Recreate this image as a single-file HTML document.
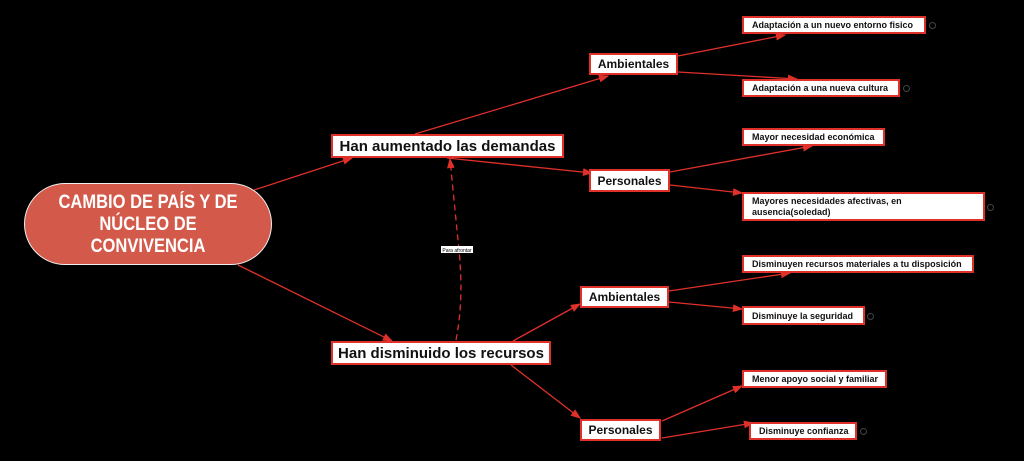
<!DOCTYPE html>
<html><head><meta charset="utf-8"><style>
body{margin:0;background:#000;width:1024px;height:461px;overflow:hidden;position:relative;font-family:"Liberation Sans",sans-serif}
.b{position:absolute;background:#fff;border:2px solid #e0302a;box-sizing:border-box;color:#111;font-weight:bold;display:flex;align-items:center;padding-left:8px}
.l{font-size:9px;padding-left:8px}
.m{font-size:12px;justify-content:center;padding:0}
.h{font-size:15px;justify-content:center;padding:0}
.d{position:absolute;width:5px;height:5px;border:1px solid #444;border-radius:50%}
</style></head><body>
<svg width="1024" height="461" style="position:absolute;left:0;top:0">
<defs><marker id="a" markerWidth="8" markerHeight="6" refX="7" refY="3" orient="auto"><path d="M0,0L8,3L0,6z" fill="#e0302a"/></marker></defs>
<g stroke="#e0302a" stroke-width="1.3" fill="none" marker-end="url(#a)">
<line x1="254" y1="190" x2="352" y2="158"/>
<line x1="238" y1="265" x2="392" y2="341"/>
<line x1="415" y1="134" x2="608" y2="76"/>
<line x1="447" y1="158" x2="592" y2="173"/>
<line x1="513" y1="341" x2="580" y2="304"/>
<line x1="511" y1="365" x2="580" y2="418"/>
<line x1="678" y1="56" x2="785" y2="35"/>
<line x1="678" y1="72" x2="797" y2="79"/>
<line x1="670" y1="172" x2="812" y2="146"/>
<line x1="670" y1="185" x2="742" y2="193"/>
<line x1="669" y1="291" x2="790" y2="273"/>
<line x1="669" y1="302" x2="742" y2="309"/>
<line x1="662" y1="421" x2="742" y2="386"/>
<line x1="662" y1="438" x2="753" y2="423"/>
<path d="M456,340 Q464,300 459,250 T450,159" stroke-dasharray="6,4"/>
</g>
<rect x="441" y="246" width="32" height="7" fill="#fff"/>
<text x="457" y="252" font-size="5" text-anchor="middle" font-family="Liberation Sans">Para afrontar</text>
</svg>
<div style="position:absolute;left:24px;top:183px;width:248px;height:82px;box-sizing:border-box;background:#d35a4a;border:1.5px solid #eee;border-radius:41px;color:#fff;font-weight:bold;font-size:19px;text-align:center;line-height:22px;padding-top:8px"><div style="transform:scaleX(0.87)">CAMBIO DE PAÍS Y DE<br>NÚCLEO DE<br>CONVIVENCIA</div></div>
<div class="b h" style="left:331px;top:134px;width:233px;height:24px">Han aumentado las demandas</div>
<div class="b h" style="left:331px;top:341px;width:220px;height:24px">Han disminuido los recursos</div>
<div class="b m" style="left:589px;top:53px;width:89px;height:22px">Ambientales</div>
<div class="b m" style="left:589px;top:169px;width:81px;height:23px">Personales</div>
<div class="b m" style="left:580px;top:286px;width:89px;height:22px">Ambientales</div>
<div class="b m" style="left:580px;top:419px;width:81px;height:22px">Personales</div>
<div class="b l" style="left:742px;top:16px;width:184px;height:18px">Adaptación a un nuevo entorno fisico</div>
<div class="b l" style="left:742px;top:79px;width:158px;height:18px">Adaptación a una nueva cultura</div>
<div class="b l" style="left:742px;top:128px;width:143px;height:18px">Mayor necesidad económica</div>
<div class="b l" style="left:742px;top:192px;width:243px;height:29px;line-height:11px">Mayores necesidades afectivas, en<br>ausencia(soledad)</div>
<div class="b l" style="left:742px;top:255px;width:232px;height:18px">Disminuyen recursos materiales a tu disposición</div>
<div class="b l" style="left:742px;top:306px;width:123px;height:19px">Disminuye la seguridad</div>
<div class="b l" style="left:742px;top:370px;width:145px;height:18px">Menor apoyo social y familiar</div>
<div class="b l" style="left:749px;top:422px;width:108px;height:18px">Disminuye confianza</div>
<div class="d" style="left:929px;top:22px"></div>
<div class="d" style="left:903px;top:85px"></div>
<div class="d" style="left:987px;top:204px"></div>
<div class="d" style="left:867px;top:313px"></div>
<div class="d" style="left:860px;top:428px"></div>
</body></html>
